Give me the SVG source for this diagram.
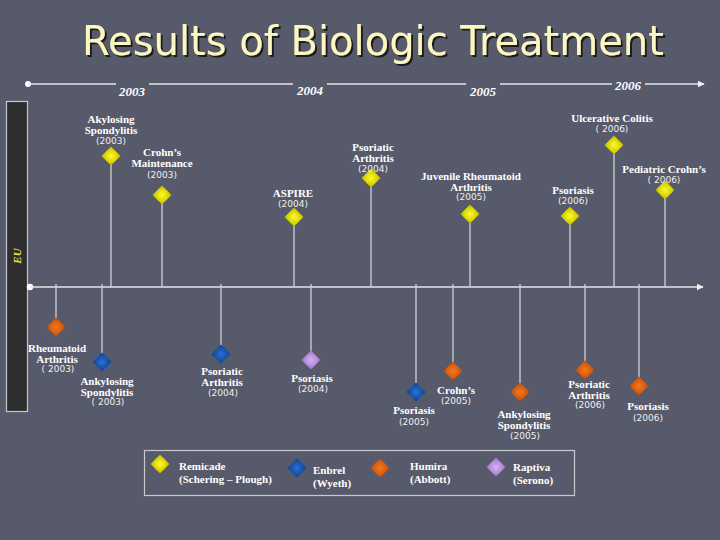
<svg xmlns="http://www.w3.org/2000/svg" width="720" height="540" viewBox="0 0 720 540">
<defs>
<radialGradient id="gY" cx="50%" cy="50%" r="60%"><stop offset="0" stop-color="#fbfb30"/><stop offset="0.6" stop-color="#d8d000"/><stop offset="1" stop-color="#9a9400"/></radialGradient>
<radialGradient id="gB" cx="50%" cy="50%" r="60%"><stop offset="0" stop-color="#2c70d0"/><stop offset="0.6" stop-color="#124fa8"/><stop offset="1" stop-color="#0a3478"/></radialGradient>
<radialGradient id="gO" cx="50%" cy="50%" r="60%"><stop offset="0" stop-color="#f07a20"/><stop offset="0.6" stop-color="#d85a0c"/><stop offset="1" stop-color="#9a3a04"/></radialGradient>
<radialGradient id="gP" cx="50%" cy="50%" r="60%"><stop offset="0" stop-color="#d6b0f0"/><stop offset="0.6" stop-color="#b088d8"/><stop offset="1" stop-color="#8060a8"/></radialGradient>
<filter id="sh" x="-5%" y="-20%" width="110%" height="150%"><feDropShadow dx="2" dy="2" stdDeviation="0.4" flood-color="#1a1a1e" flood-opacity="1"/></filter>
<path id="dm" d="M0,-9.5 L9.5,0 L0,9.5 L-9.5,0 Z"/>
<marker id="arr" viewBox="0 0 10 10" refX="9" refY="5" markerWidth="7" markerHeight="7" markerUnits="userSpaceOnUse" orient="auto"><path d="M0,0 L10,5 L0,10 Z" fill="#f0f0f0"/></marker>
</defs>
<style>
.lb{font-family:"Liberation Serif",serif;font-weight:bold;font-size:11px;fill:#ffffff;text-anchor:middle}
.yr{font-family:"DejaVu Sans","Liberation Sans",sans-serif;font-size:9px;fill:#f0f0f0;text-anchor:middle}
.yh{font-family:"Liberation Serif",serif;font-weight:bold;font-style:italic;font-size:13px;fill:#ffffff;text-anchor:middle}
.lg{font-family:"Liberation Serif",serif;font-weight:bold;font-size:11px;fill:#ffffff}
.stem{stroke:#cfd0d8;stroke-width:1.3;fill:none}
.axis{stroke:#e6e6ea;stroke-width:1.6;fill:none}
</style>
<rect x="0" y="0" width="720" height="540" fill="#575a6a"/>
<g id="title">
<text x="373" y="55" font-family="DejaVu Sans,sans-serif" font-size="40" fill="#fbf6c2" text-anchor="middle" filter="url(#sh)">Results of Biologic Treatment</text>
</g>
<g id="eu-bar">
<rect x="6.5" y="101.5" width="21" height="310" fill="#2e2e2e" stroke="#c8c8cc" stroke-width="1.2"/>
<text transform="translate(21,256) rotate(-90)" font-family="Liberation Serif,serif" font-weight="bold" font-style="italic" font-size="11" fill="#e8e840" text-anchor="middle">EU</text>
</g>
<g id="connectors">
<circle cx="28" cy="84" r="3" fill="#ffffff"/>
<path class="axis" d="M28,84 H116 M149,84 H293 M327,84 H466 M500,84 H612 M645,84 H704" marker-end="url(#arr)"/>
<circle cx="30" cy="287" r="3.2" fill="#ffffff"/>
<path class="axis" d="M30,287 H703" marker-end="url(#arr)"/>
<path class="stem" d="M111,156 V287 M162,195 V287 M294,217 V287 M371,178 V287 M470,214 V287 M570,216 V287 M614,145 V287 M665,190 V287"/>
<path class="stem" d="M56,284 V327 M102,284 V362 M221,284 V354 M311,284 V360 M416,284 V391 M453,284 V371 M520,284 V392 M585,284 V370 M639,284 V385"/>
</g>
<g id="years">
<text class="yh" x="132" y="96">2003</text>
<text class="yh" x="310" y="95">2004</text>
<text class="yh" x="483" y="96">2005</text>
<text class="yh" x="628" y="90">2006</text>
</g>
<g id="n-akylosing-2003"><use href="#dm" x="111" y="156" fill="url(#gY)"/><text class="lb" x="111" y="123">Akylosing</text><text class="lb" x="111" y="134">Spondylitis</text><text class="yr" x="111" y="144">(2003)</text></g>
<g id="n-crohns-maint-2003"><use href="#dm" x="162" y="195" fill="url(#gY)"/><text class="lb" x="162" y="156">Crohn’s</text><text class="lb" x="162" y="167">Maintenance</text><text class="yr" x="162" y="178">(2003)</text></g>
<g id="n-aspire-2004"><use href="#dm" x="294" y="217" fill="url(#gY)"/><text class="lb" x="293" y="197">ASPIRE</text><text class="yr" x="293" y="207">(2004)</text></g>
<g id="n-psa-2004-y"><use href="#dm" x="371" y="178" fill="url(#gY)"/><text class="lb" x="373" y="151">Psoriatic</text><text class="lb" x="373" y="162">Arthritis</text><text class="yr" x="373" y="172">(2004)</text></g>
<g id="n-jra-2005"><use href="#dm" x="470" y="214" fill="url(#gY)"/><text class="lb" x="471" y="180">Juvenile Rheumatoid</text><text class="lb" x="471" y="191">Arthritis</text><text class="yr" x="471" y="200">(2005)</text></g>
<g id="n-pso-2006-y"><use href="#dm" x="570" y="216" fill="url(#gY)"/><text class="lb" x="573" y="194">Psoriasis</text><text class="yr" x="573" y="204">(2006)</text></g>
<g id="n-uc-2006"><use href="#dm" x="614" y="145" fill="url(#gY)"/><text class="lb" x="612" y="122">Ulcerative Colitis</text><text class="yr" x="612" y="132">( 2006)</text></g>
<g id="n-ped-crohns-2006"><use href="#dm" x="665" y="190" fill="url(#gY)"/><text class="lb" x="664" y="173">Pediatric Crohn’s</text><text class="yr" x="664" y="183">( 2006)</text></g>
<g id="n-ra-2003"><use href="#dm" x="56" y="327" fill="url(#gO)"/><text class="lb" x="57" y="352">Rheumatoid</text><text class="lb" x="57" y="363">Arthritis</text><text class="yr" x="58" y="372">( 2003)</text></g>
<g id="n-as-2003-b"><use href="#dm" x="102" y="362" fill="url(#gB)"/><text class="lb" x="107" y="385">Ankylosing</text><text class="lb" x="107" y="396">Spondylitis</text><text class="yr" x="108" y="405">( 2003)</text></g>
<g id="n-psa-2004-b"><use href="#dm" x="221" y="354" fill="url(#gB)"/><text class="lb" x="222" y="375">Psoriatic</text><text class="lb" x="222" y="386">Arthritis</text><text class="yr" x="223" y="396">(2004)</text></g>
<g id="n-pso-2004-p"><use href="#dm" x="311" y="360" fill="url(#gP)"/><text class="lb" x="312" y="382">Psoriasis</text><text class="yr" x="313" y="392">(2004)</text></g>
<g id="n-pso-2005-b"><use href="#dm" x="416" y="392" fill="url(#gB)"/><text class="lb" x="414" y="414">Psoriasis</text><text class="yr" x="414" y="425">(2005)</text></g>
<g id="n-crohns-2005"><use href="#dm" x="453" y="371" fill="url(#gO)"/><text class="lb" x="456" y="394">Crohn’s</text><text class="yr" x="456" y="404">(2005)</text></g>
<g id="n-as-2005-o"><use href="#dm" x="520" y="392" fill="url(#gO)"/><text class="lb" x="524" y="418">Ankylosing</text><text class="lb" x="524" y="429">Spondylitis</text><text class="yr" x="525" y="439">(2005)</text></g>
<g id="n-psa-2006-o"><use href="#dm" x="585" y="370" fill="url(#gO)"/><text class="lb" x="589" y="388">Psoriatic</text><text class="lb" x="589" y="399">Arthritis</text><text class="yr" x="590" y="408">(2006)</text></g>
<g id="n-pso-2006-o"><use href="#dm" x="639" y="386" fill="url(#gO)"/><text class="lb" x="648" y="410">Psoriasis</text><text class="yr" x="648" y="421">(2006)</text></g>
<g id="legend">
<rect x="144.5" y="450.5" width="430" height="45" fill="none" stroke="#c8c8cc" stroke-width="1.2"/>
<use href="#dm" x="160" y="464" fill="url(#gY)"/>
<text class="lg" x="179" y="470">Remicade</text><text class="lg" x="179" y="483">(Schering – Plough)</text>
<use href="#dm" x="297" y="468" fill="url(#gB)"/>
<text class="lg" x="313" y="474">Enbrel</text><text class="lg" x="313" y="487">(Wyeth)</text>
<use href="#dm" x="380" y="468" fill="url(#gO)"/>
<text class="lg" x="410" y="470">Humira</text><text class="lg" x="410" y="483">(Abbott)</text>
<use href="#dm" x="496" y="467" fill="url(#gP)"/>
<text class="lg" x="513" y="471">Raptiva</text><text class="lg" x="513" y="484">(Serono)</text>
</g>
</svg>
